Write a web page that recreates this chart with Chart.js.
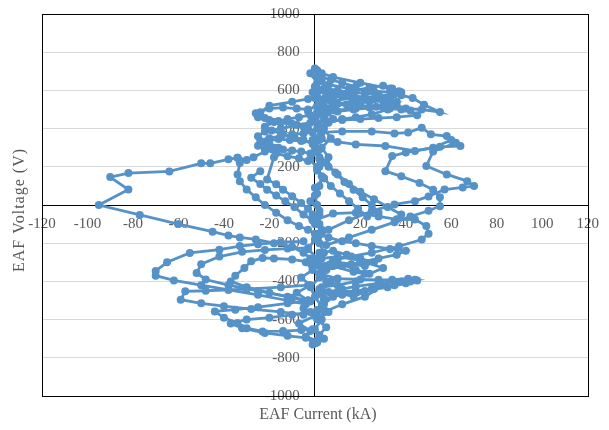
<!DOCTYPE html>
<html>
<head>
<meta charset="utf-8">
<script src="https://cdn.jsdelivr.net/npm/chart.js@4/dist/chart.umd.min.js"></script>
<style>
html,body{margin:0;padding:0;background:#fff;}
#wrap{width:609px;height:430px;position:relative;}
</style>
</head>
<body>
<div id="wrap"><canvas id="c" width="609" height="430"></canvas></div>
<script>
// Axis ticks
const xTickValues = [-120,-100,-80,-60,-40,-20,0,20,40,60,80,100,120];
const yTickValues = [-1000,-800,-600,-400,-200,0,200,400,600,800,1000];

// EAF current (kA) / voltage (V) trajectory pieces
const cur01 = [0,1,3,8,20,33,37,35,28,18,8,3,1];
const volt01 = [715,705,690,670,640,610,595,580,570,560,548,535,520];
const cur02 = [2,6,15,26,34,38,43,48,55,47,40,30,18,8,3];
const volt02 = [650,630,610,595,590,575,560,525,487,500,505,510,505,495,480];
const cur03 = [1,5,12,22,30,36,32,25,18,12,6,2];
const volt03 = [600,585,570,560,545,520,500,475,460,450,430,410];
const cur04 = [0,-3,-10,-20,-24,-25,-20,-15,-8,-3];
const volt04 = [560,555,540,520,485,460,445,430,420,400];
const cur05 = [-2,-8,-15,-22,-25,-24,-20,-16,-22,-27,-30,-34];
const volt05 = [430,420,400,385,360,335,320,300,280,250,235,248];
const cur06 = [-34,-38,-46,-50,-64,-82,-90,-82,-95,-77,-60,-45,-38,-33,-26,-18,-10,-5,-2];
const volt06 = [248,239,218,218,176,167,146,81,0,-52,-100,-140,-160,-170,-180,-200,-220,-250,-280];
const cur07 = [-33,-34,-33,-30,-26,-22,-17,-12,-7,-3,0];
const volt07 = [220,160,125,81,40,0,-40,-80,-110,-130,-150];
const cur08 = [-24,-28,-24,-21,-17,-13,-9,-5,-1,2];
const volt08 = [177,143,110,80,50,20,-10,-50,-80,-100];
const cur09 = [-18,-21,-17,-14,-10,-6,-3,-1,1];
const volt09 = [250,134,108,80,46,10,-20,-50,-70];
const cur10 = [-5,-15,-25,-33,-42,-55,-65,-70,-70,-62,-50,-38,-25,-12,-4];
const volt10 = [-190,-195,-205,-215,-234,-251,-300,-345,-370,-395,-420,-445,-470,-500,-520];
const cur11 = [-3,-12,-22,-32,-42,-50,-52,-48,-38,-25,-12,-3];
const volt11 = [-225,-228,-235,-245,-270,-310,-356,-390,-420,-450,-480,-500];
const cur12 = [-2,-10,-18,-23,-28,-31,-35,-37,-30,-20,-10,-2];
const volt12 = [-300,-285,-280,-277,-295,-330,-370,-400,-430,-460,-485,-505];
const cur13 = [-3,-15,-30,-48,-57,-59,-50,-40,-28,-15,-5];
const volt13 = [-420,-430,-440,-449,-452,-496,-515,-530,-545,-560,-575];
const cur14 = [-3,-12,-25,-35,-44,-40,-34,-30,-23,-14,-6,-1];
const volt14 = [-500,-515,-535,-548,-557,-590,-618,-645,-662,-660,-655,-650];
const cur15 = [-2,-10,-20,-30,-37,-32,-22,-12,-4,0];
const volt15 = [-560,-575,-590,-600,-620,-645,-670,-685,-695,-725];
const cur16 = [0,8,18,28,36,44,49,50,47,37,25,16,8,2];
const volt16 = [-80,-45,-40,-60,-75,-76,-110,-150,-181,-216,-250,-269,-290,-320];
const cur17 = [2,10,18,31,44,55,64,62,52,49,58,67,70,65,57,50,44,35,25,15,6,1];
const volt17 = [340,330,317,309,283,305,309,326,280,204,160,125,99,92,81,45,20,3,-32,-80,-130,-170];
const cur18 = [3,12,25,35,41,47,51,58,60,52,40,34,31,38,46,52,55,55,50,42,35,25,15,5];
const volt18 = [380,385,385,375,379,405,370,361,340,300,275,256,177,150,115,80,40,-6,-30,-60,-90,-130,-170,-210];
const cur19 = [2,10,20,28,34,41,44,38,28,18,12,6,1];
const volt19 = [-360,-385,-390,-392,-391,-386,-391,-400,-410,-426,-440,-455,-470];
const cur20 = [1,8,17,22,18,10,3];
const volt20 = [-300,-320,-350,-360,-400,-420,-430];
const cur21 = [2,10,17,25,30,22,12,4];
const volt21 = [-440,-460,-479,-440,-420,-480,-520,-560];
const cur22 = [1,5,9,13,17,21,25,28];
const volt22 = [280,220,170,120,80,40,0,-40];
const cur23 = [1,4,7,11,15,19,23];
const volt23 = [180,140,100,60,20,-20,-60];
const cur24 = [2,6,10,15,20,26,32,38];
const volt24 = [240,200,160,110,70,30,-10,-50];
const cur25 = [0,2,1,3,2,4,1,3,0,2,1,3,2,0,1,2,0];
const volt25 = [700,650,600,550,500,450,400,350,300,250,200,150,100,50,0,-50,-100];
const cur26 = [1,3,2,4,1,3,5,2,4,1,3,0,2,1];
const volt26 = [-100,-150,-200,-250,-300,-350,-400,-450,-500,-550,-600,-650,-700,-720];
const cur27 = [0,4,10,16,22,28,33,30,24,16,9,4,1];
const volt27 = [620,610,600,590,585,580,560,545,540,530,520,505,490];
const cur28 = [1,6,12,18,24,30,34,38,33,26,18,10,4];
const volt28 = [560,570,580,600,615,625,610,590,570,555,545,530,515];
const cur29 = [2,8,14,20,27,33,38,42,45,36,28,20,12,5,1];
const volt29 = [540,535,525,520,515,505,500,495,470,460,455,450,445,440,430];
const cur30 = [1,5,10,17,24,31,36,30,22,14,7,2];
const volt30 = [470,480,490,500,510,525,540,555,565,575,590,600];
const cur31 = [0,3,7,12,18,15,10,5,2];
const volt31 = [680,670,655,640,620,600,580,560,540];
const cur32 = [-1,-5,-10,-15,-20,-23,-21,-18,-14,-10,-6,-2];
const volt32 = [380,375,370,360,350,330,310,300,290,285,280,270];
const cur33 = [-2,-7,-12,-18,-22,-19,-14,-9,-5,-1];
const volt33 = [470,460,450,435,410,390,370,355,340,320];
const cur34 = [-1,-6,-11,-16,-21,-25,-22,-17,-12,-7,-3];
const volt34 = [330,335,340,345,335,310,290,270,255,245,230];
const cur35 = [-3,-8,-14,-20,-26,-22,-16,-10,-5];
const volt35 = [500,505,510,505,480,455,440,425,410];
const cur36 = [-2,1,-1,2,-3,0,3,-1,2,-2,1,4,0];
const volt36 = [690,640,590,540,490,440,390,340,290,240,190,140,90];
const cur37 = [1,-2,2,-1,3,0,-3,1,-1,2,-2,0,3];
const volt37 = [60,20,-30,-80,-130,-180,-230,-280,-330,-380,-430,-480,-530];
const cur38 = [-4,-1,-6,-2,-8,-3,-5,0,-7,-2,-4,1,-1];
const volt38 = [-300,-340,-380,-420,-460,-500,-540,-580,-620,-660,-690,-710,-730];
const cur39 = [5,2,7,3,8,4,6,1,5,2,4];
const volt39 = [-320,-360,-400,-440,-480,-520,-560,-600,-640,-680,-700];
const cur40 = [3,6,2,5,8,4,7,3,6,2];
const volt40 = [650,600,550,500,450,400,350,300,250,200];
const cur41 = [2,8,14,20,26,22,16,10,18,24,30,20,10,3];
const volt41 = [-250,-240,-260,-280,-300,-320,-310,-300,-340,-360,-330,-290,-270,-280];
const cur42 = [1,6,12,18,25,33,40,36,28,20,12,5];
const volt42 = [-150,-170,-190,-200,-215,-230,-240,-260,-280,-300,-320,-340];
const cur43 = [3,10,18,26,35,42,45,40,32,22,12,4];
const volt43 = [-460,-455,-450,-440,-420,-400,-395,-410,-430,-450,-470,-490];

const pieces = [
  [cur01,volt01],[cur02,volt02],[cur03,volt03],[cur04,volt04],[cur05,volt05],
  [cur06,volt06],[cur07,volt07],[cur08,volt08],[cur09,volt09],[cur10,volt10],
  [cur11,volt11],[cur12,volt12],[cur13,volt13],[cur14,volt14],[cur15,volt15],
  [cur16,volt16],[cur17,volt17],[cur18,volt18],[cur19,volt19],[cur20,volt20],
  [cur21,volt21],[cur22,volt22],[cur23,volt23],[cur24,volt24],[cur25,volt25],
  [cur26,volt26],[cur27,volt27],[cur28,volt28],[cur29,volt29],[cur30,volt30],
  [cur31,volt31],[cur32,volt32],[cur33,volt33],[cur34,volt34],[cur35,volt35],
  [cur36,volt36],[cur37,volt37],[cur38,volt38],[cur39,volt39],[cur40,volt40],
  [cur41,volt41],[cur42,volt42],[cur43,volt43]
];

const blue = '#5592C8';
const datasets = pieces.map(([cx, vy]) => ({
  data: cx.map((v, i) => ({x: v, y: vy[i]})),
  showLine: true,
  borderColor: blue,
  backgroundColor: blue,
  borderWidth: 2.8,
  pointRadius: 4,
  pointHoverRadius: 4,
  pointBorderWidth: 0,
  tension: 0
}));

const frame = {
  id: 'frame',
  beforeDatasetsDraw(chart) {
    const {ctx, chartArea: a} = chart;
    ctx.save();
    ctx.strokeStyle = '#000';
    ctx.lineWidth = 1;
    ctx.strokeRect(Math.round(a.left) + 0.5, Math.round(a.top) + 0.5, Math.round(a.right - a.left), Math.round(a.bottom - a.top));
    ctx.restore();
  },
  afterDraw(chart) {
    const {ctx, chartArea: a} = chart;
    ctx.save();
    ctx.fillStyle = '#595959';
    ctx.font = '16px "Liberation Serif", "Times New Roman", serif';
    ctx.textAlign = 'center';
    ctx.textBaseline = 'middle';
    ctx.fillText('EAF Current (kA)', chart.scales.x.getPixelForValue(0) + 3, 415);
    ctx.translate(20, 210);
    ctx.rotate(-Math.PI / 2);
    ctx.letterSpacing = '1px';
    ctx.fillText('EAF Voltage (V)', 0, 0);
    ctx.restore();
  }
};

const tickFont = {family: '"Liberation Serif", "Times New Roman", serif', size: 15};
const plain = v => String(v);

new Chart(document.getElementById('c'), {
  type: 'scatter',
  data: {datasets},
  options: {
    responsive: false,
    animation: false,
    events: [],
    layout: {padding: {left: 42, right: 12, top: 14, bottom: 34}},
    plugins: {legend: {display: false}, tooltip: {enabled: false}},
    scales: {
      x: {
        type: 'linear',
        position: {y: 0},
        min: -120, max: 120,
        afterBuildTicks: s => { s.ticks = xTickValues.map(v => ({value: v})); },
        grid: {display: false, drawTicks: false},
        border: {display: true, color: '#000', width: 1},
        ticks: {color: '#595959', font: tickFont, padding: 10, maxRotation: 0, autoSkip: false, callback: plain}
      },
      y: {
        type: 'linear',
        position: {x: 0},
        min: -1000, max: 1000,
        afterBuildTicks: s => { s.ticks = yTickValues.map(v => ({value: v})); },
        grid: {display: true, color: '#D9D9D9', lineWidth: 1, drawTicks: false},
        border: {display: true, color: '#000', width: 1},
        ticks: {display: false}
      },
      yLab: {
        type: 'linear',
        position: {x: -6.6},
        min: -1000, max: 1000,
        afterBuildTicks: s => { s.ticks = yTickValues.map(v => ({value: v})); },
        grid: {display: false, drawTicks: false},
        border: {display: false},
        ticks: {color: '#595959', font: tickFont, padding: 0, autoSkip: false, callback: plain}
      }
    }
  },
  plugins: [frame]
});
</script>
</body>
</html>
